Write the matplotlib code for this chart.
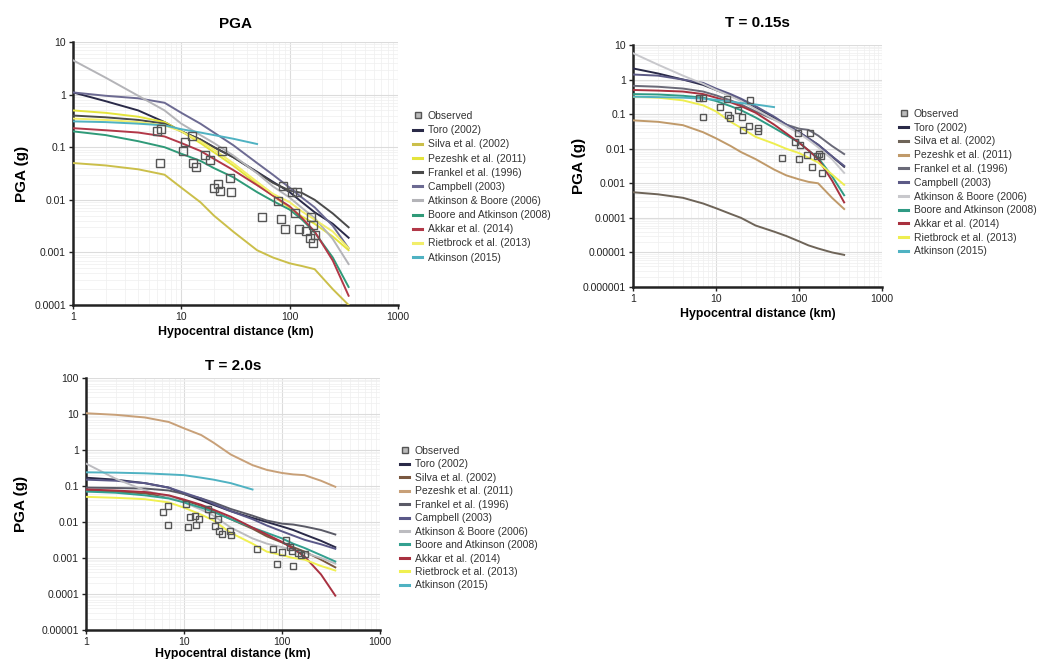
import numpy as np
import matplotlib
matplotlib.use("Agg")
import matplotlib.pyplot as plt
from matplotlib.ticker import FixedLocator, LogLocator, NullFormatter

# ---------------- data ----------------
R = [1, 2, 4, 7, 10, 15, 20, 30, 50, 70, 100, 130, 170, 250, 350]
nan = np.nan

series_names = ["Toro (2002)", "Silva et al. (2002)", "Pezeshk et al. (2011)",
                "Frankel et al. (1996)", "Campbell (2003)", "Atkinson & Boore (2006)",
                "Boore and Atkinson (2008)", "Akkar et al. (2014)",
                "Rietbrock et al. (2013)", "Atkinson (2015)"]

# PGA panel
pga_toro = [1.1, 0.75, 0.5, 0.3, 0.2, 0.14, 0.1, 0.065, 0.034, 0.022, 0.014, 0.009, 0.0058, 0.0035, 0.0019]
pga_silva = [0.05, 0.045, 0.038, 0.03, 0.017, 0.009, 0.005, 0.0025, 0.0011, 0.0008, 0.00062, 0.00055, 0.00048, 0.0002, 0.0001]
pga_pezeshk = [0.5, 0.45, 0.38, 0.3, 0.2, 0.12, 0.08, 0.045, 0.02, 0.012, 0.007, 0.0048, 0.0035, 0.002, 0.0011]
pga_frankel = [0.4, 0.37, 0.33, 0.28, 0.2, 0.14, 0.1, 0.065, 0.033, 0.021, 0.015, 0.0135, 0.01, 0.0055, 0.003]
pga_campbell = [1.1, 0.95, 0.85, 0.7, 0.45, 0.28, 0.19, 0.11, 0.05, 0.03, 0.017, 0.011, 0.0072, 0.0032, 0.0012]
pga_ab06 = [4.5, 2.1, 0.95, 0.5, 0.28, 0.17, 0.12, 0.07, 0.032, 0.018, 0.011, 0.007, 0.0045, 0.0018, 0.0006]
pga_ba08 = [0.2, 0.17, 0.13, 0.1, 0.075, 0.055, 0.04, 0.027, 0.014, 0.0095, 0.0065, 0.0042, 0.0024, 0.0008, 0.00022]
pga_akkar = [0.23, 0.21, 0.19, 0.16, 0.12, 0.085, 0.06, 0.037, 0.019, 0.012, 0.0075, 0.0045, 0.0025, 0.0007, 0.00015]
pga_rietbrock = [0.35, 0.33, 0.3, 0.26, 0.2, 0.13, 0.09, 0.05, 0.022, 0.013, 0.009, 0.006, 0.0042, 0.0025, 0.0012]
pga_atk15 = [0.31, 0.3, 0.28, 0.26, 0.22, 0.19, 0.17, 0.145, 0.115, nan, nan, nan, nan, nan, nan]

pga_obs_r = [6.0, 6.5, 6.4, 10.4, 10.9, 12.6, 12.8, 13.7, 16.7, 18.2, 20, 21.9, 22.8, 23.5, 28.4, 29,
             55, 78, 84, 87, 91, 104, 111, 117, 122, 143, 154, 159, 165, 171, 165]
pga_obs_v = [0.2, 0.22, 0.049, 0.085, 0.126, 0.16, 0.049, 0.042, 0.07, 0.058, 0.017, 0.02, 0.015, 0.085, 0.026, 0.014,
             0.0047, 0.0094, 0.0043, 0.018, 0.0028, 0.014, 0.0055, 0.014, 0.0028, 0.0026, 0.0019, 0.0047, 0.0033, 0.0021, 0.0015]

# T = 0.15 s panel
t015_toro = [2.1, 1.5, 1.0, 0.7, 0.5, 0.34, 0.25, 0.15, 0.08, 0.05, 0.03, 0.02, 0.013, 0.006, 0.003]
t015_silva = [0.00055, 0.00048, 0.00038, 0.00026, 0.00019, 0.00013, 0.0001, 0.00006, 0.00004, 0.00003, 0.000021, 0.000016, 0.000013, 0.00001, 0.0000085]
t015_pezeshk = [0.066, 0.06, 0.048, 0.03, 0.02, 0.012, 0.008, 0.005, 0.0025, 0.0017, 0.0013, 0.0011, 0.001, 0.00038, 0.00018]
t015_frankel = [0.66, 0.62, 0.55, 0.45, 0.35, 0.25, 0.19, 0.12, 0.07, 0.05, 0.038, 0.035, 0.024, 0.012, 0.007]
t015_campbell = [1.4, 1.3, 1.0, 0.8, 0.55, 0.38, 0.28, 0.17, 0.085, 0.05, 0.03, 0.02, 0.013, 0.006, 0.0032]
t015_ab06 = [5.8, 2.7, 1.3, 0.75, 0.5, 0.33, 0.24, 0.14, 0.07, 0.045, 0.028, 0.018, 0.011, 0.005, 0.002]
t015_ba08 = [0.38, 0.37, 0.34, 0.3, 0.24, 0.17, 0.13, 0.08, 0.04, 0.025, 0.015, 0.009, 0.0055, 0.0016, 0.00045]
t015_akkar = [0.5, 0.48, 0.45, 0.38, 0.3, 0.22, 0.17, 0.11, 0.05, 0.028, 0.015, 0.009, 0.005, 0.0012, 0.00028]
t015_rietbrock = [0.32, 0.3, 0.25, 0.18, 0.12, 0.06, 0.04, 0.022, 0.014, 0.01, 0.0075, 0.0055, 0.004, 0.0018, 0.0009]
t015_atk15 = [0.32, 0.31, 0.3, 0.28, 0.26, 0.23, 0.21, 0.19, 0.16, nan, nan, nan, nan, nan, nan]

t015_obs_r = [6.3, 7.0, 6.9, 11.1, 13.5, 14, 14.7, 18.6, 20.5, 21.4, 24.8, 25.7, 31.7, 32.5,
              62.5, 90, 96, 99, 104, 125, 135, 144, 165, 176, 183, 189]
t015_obs_v = [0.29, 0.29, 0.085, 0.16, 0.27, 0.095, 0.075, 0.13, 0.08, 0.034, 0.046, 0.26, 0.04, 0.033,
              0.0053, 0.016, 0.028, 0.005, 0.013, 0.0067, 0.028, 0.003, 0.006, 0.0069, 0.0063, 0.002]

# T = 2.0 s panel
t20_toro = [0.17, 0.15, 0.12, 0.09, 0.06, 0.04, 0.03, 0.02, 0.013, 0.01, 0.0075, 0.006, 0.0045, 0.003, 0.002]
t20_silva = [0.075, 0.07, 0.062, 0.05, 0.04, 0.028, 0.02, 0.012, 0.0065, 0.004, 0.0027, 0.002, 0.0015, 0.0009, 0.00055]
t20_pezeshk = [10.5, 9.5, 8.0, 6.0, 4.0, 2.6, 1.6, 0.75, 0.38, 0.28, 0.23, 0.21, 0.2, 0.14, 0.095]
t20_frankel = [0.09, 0.088, 0.085, 0.075, 0.06, 0.045, 0.035, 0.023, 0.015, 0.011, 0.009, 0.0085, 0.0075, 0.006, 0.0045]
t20_campbell = [0.15, 0.14, 0.12, 0.09, 0.065, 0.045, 0.032, 0.02, 0.012, 0.008, 0.0055, 0.0042, 0.0032, 0.0024, 0.0018]
t20_ab06 = [0.42, 0.16, 0.075, 0.05, 0.035, 0.022, 0.015, 0.007, 0.0035, 0.0025, 0.002, 0.0017, 0.0014, 0.001, 0.0007]
t20_ba08 = [0.07, 0.065, 0.055, 0.045, 0.035, 0.025, 0.019, 0.012, 0.007, 0.005, 0.0035, 0.0025, 0.0019, 0.0012, 0.0008]
t20_akkar = [0.08, 0.075, 0.068, 0.055, 0.042, 0.03, 0.022, 0.014, 0.007, 0.0045, 0.0028, 0.0018, 0.0011, 0.00035, 0.00009]
t20_rietbrock = [0.05, 0.047, 0.043, 0.035, 0.025, 0.016, 0.011, 0.005, 0.0025, 0.0015, 0.0012, 0.001, 0.0009, 0.0006, 0.00045]
t20_atk15 = [0.24, 0.235, 0.225, 0.21, 0.2, 0.17, 0.15, 0.12, 0.08, nan, nan, nan, nan, nan, nan]

t20_obs_r = [6.1, 6.9, 6.8, 10.6, 11, 11.5, 13.3, 13, 14.3, 17.7, 19.2, 20.7, 22.4, 22.9, 24.2, 29.5, 29.9,
             56, 81, 88, 99, 110, 121, 128, 126, 147, 158, 171]
t20_obs_v = [0.019, 0.027, 0.0081, 0.032, 0.0073, 0.014, 0.0081, 0.015, 0.012, 0.023, 0.016, 0.0077, 0.012, 0.0058, 0.0047, 0.0058, 0.0043,
             0.0018, 0.0018, 0.00069, 0.0015, 0.0032, 0.002, 0.0006, 0.0016, 0.0014, 0.0012, 0.0013]

# ---------------- styles ----------------
colors_pga = ["#2a2a48", "#cbbf4a", "#e4e43c", "#4a4a4a", "#6c6a92", "#b4b4b8",
              "#2f9a78", "#b23848", "#f2ee6a", "#4fb2c2"]
colors_015 = ["#2a2a48", "#6e6458", "#c09a6a", "#6a6a78", "#5c5a86", "#c8c8cc",
              "#2f9a84", "#a8303e", "#eeee50", "#4fb2c2"]
colors_20 = ["#2a2a48", "#7a5840", "#c8a078", "#5a5a66", "#5a5888", "#bcbcc0",
             "#33a090", "#a83040", "#f0f050", "#4fb2c2"]

W, H = 1039, 659
fig = plt.figure(figsize=(W / 100, H / 100), dpi=100)
fig.patch.set_facecolor("white")

title_font = dict(family=["Liberation Sans Narrow", "DejaVu Sans Condensed", "Liberation Sans"],
                  weight="bold", stretch="condensed")
text_font = ["Liberation Sans", "DejaVu Sans"]


def px_rect(l, t, r, b):
    return [l / W, 1 - b / H, (r - l) / W, (b - t) / H]


def make_panel(rect, title, series, colors, obs_r, obs_v, ylo, yhi, ylabels,
               leg_xy, leg_spacing, msize, title_pad, ylab_pad, xlab_pad):
    ax = fig.add_axes(px_rect(*rect))
    ax.set_xscale("log")
    ax.set_yscale("log")
    ax.set_xlim(1, 1000)
    ax.set_ylim(ylo, yhi)
    ax.set_facecolor("white")
    ax.grid(True, which="major", color="#dcdcdc", lw=0.8)
    ax.grid(True, which="minor", color="#efefef", lw=0.5)
    ax.set_axisbelow(True)
    for s in ["top", "right"]:
        ax.spines[s].set_visible(False)
    for s in ["left", "bottom"]:
        ax.spines[s].set_linewidth(1.8)
        ax.spines[s].set_color("#222222")
    ax.xaxis.set_major_locator(FixedLocator([1, 10, 100, 1000]))
    ax.set_xticklabels(["1", "10", "100", "1000"])
    yt = [float(v) for v in ylabels]
    ax.yaxis.set_major_locator(FixedLocator(yt))
    ax.set_yticklabels(ylabels)
    ax.xaxis.set_minor_locator(LogLocator(base=10, subs=np.arange(2, 10)))
    ax.yaxis.set_minor_locator(LogLocator(base=10, subs=np.arange(2, 10), numticks=20))
    ax.xaxis.set_minor_formatter(NullFormatter())
    ax.yaxis.set_minor_formatter(NullFormatter())
    ax.tick_params(which="minor", length=0)
    ax.tick_params(which="major", length=3, width=1, labelsize=7.5, colors="#222222", pad=2)
    for lab in ax.get_xticklabels() + ax.get_yticklabels():
        lab.set_family(text_font)

    hobs = ax.plot(obs_r, obs_v, ls="none", marker="s", ms=msize, mfc="none",
                   mec="#555555", mew=1.0, label="Observed", zorder=5)[0]
    handles = [hobs]
    for name, vals, c in zip(series_names, series, colors):
        h = ax.plot(R, vals, color=c, lw=1.4, label=name, zorder=3)[0]
        handles.append(h)

    ax.set_title(title, fontsize=11, pad=title_pad, **title_font)
    ax.set_ylabel("PGA (g)", fontsize=11, labelpad=ylab_pad, **title_font)
    ax.set_xlabel("Hypocentral distance (km)", fontsize=8.9, fontweight="bold",
                  family=text_font, labelpad=xlab_pad)

    leg = fig.legend(handles=handles, loc="upper left",
                     bbox_to_anchor=(leg_xy[0] / W, 1 - leg_xy[1] / H),
                     frameon=False, fontsize=7.5, handlelength=0.9, handletextpad=0.5,
                     labelspacing=leg_spacing, borderpad=0, borderaxespad=0)
    for t in leg.get_texts():
        t.set_family(text_font)
        t.set_color("#333333")
    for lh in leg.legend_handles[1:]:
        lh.set_linewidth(2.2)
    leg.legend_handles[0].set_markersize(4)
    leg.legend_handles[0].set_markerfacecolor("#bbbbbb")
    return ax


pga_series = [pga_toro, pga_silva, pga_pezeshk, pga_frankel, pga_campbell, pga_ab06,
              pga_ba08, pga_akkar, pga_rietbrock, pga_atk15]
t015_series = [t015_toro, t015_silva, t015_pezeshk, t015_frankel, t015_campbell, t015_ab06,
               t015_ba08, t015_akkar, t015_rietbrock, t015_atk15]
t20_series = [t20_toro, t20_silva, t20_pezeshk, t20_frankel, t20_campbell, t20_ab06,
              t20_ba08, t20_akkar, t20_rietbrock, t20_atk15]

make_panel((73, 42, 398, 305), "PGA", pga_series, colors_pga, pga_obs_r, pga_obs_v,
           0.0001, 10, ["0.0001", "0.001", "0.01", "0.1", "1", "10"],
           (413, 111), 0.40, 6, 10, 4, 3)
make_panel((633, 45, 882, 287), "T = 0.15s", t015_series, colors_015, t015_obs_r, t015_obs_v,
           0.000001, 10, ["0.000001", "0.00001", "0.0001", "0.001", "0.01", "0.1", "1", "10"],
           (899, 109), 0.36, 4.5, 13, -2, 3)
make_panel((86, 378, 380, 630), "T = 2.0s", t20_series, colors_20, t20_obs_r, t20_obs_v,
           0.00001, 100, ["0.00001", "0.0001", "0.001", "0.01", "0.1", "1", "10", "100"],
           (400, 446), 0.33, 5, 6, 10, 0.5)

fig.savefig("out.png", dpi=100, facecolor="white")
